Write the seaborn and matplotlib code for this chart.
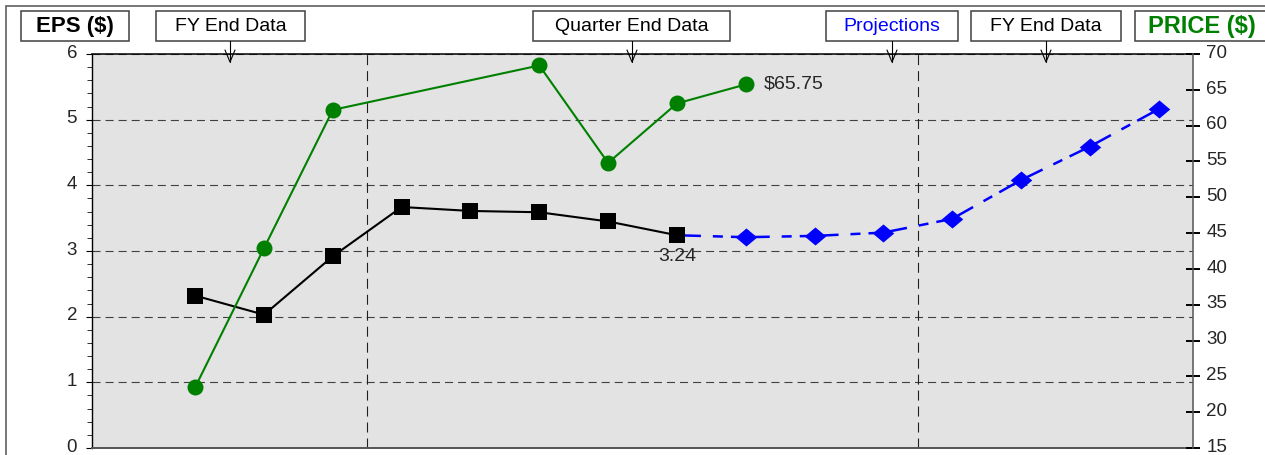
import numpy as np
import pandas as pd
import seaborn as sns
import matplotlib.pyplot as plt
from matplotlib.patches import Rectangle
from matplotlib.lines import Line2D
from matplotlib.ticker import MultipleLocator
from matplotlib.transforms import ScaledTranslation

# reported EPS, one slot per period
eps_idx = [0, 1, 2, 3, 4, 5, 6, 7]
eps_vals = [2.32, 2.03, 2.92, 3.67, 3.61, 3.59, 3.45, 3.24]

# projected EPS, starts at the last reported value
proj_idx = [7, 8, 9, 10, 11, 12, 13, 14]
proj_vals = [3.24, 3.21, 3.23, 3.28, 3.49, 4.08, 4.59, 5.16]

# share price (right axis)
price_idx = [0, 1, 2, 5, 6, 7, 8]
price_vals = [23.5, 42.9, 62.2, 68.4, 54.8, 63.1, 65.75]

period_breaks = [2.5, 10.5]
last_eps_label = "3.24"
last_price_label = "$65.75"

W, H = 1265, 455
plt.rcParams["lines.scale_dashes"] = False
sns.set_style("white", {"axes.facecolor": "#e3e3e3"})
plt.rcParams["font.family"] = ["Liberation Sans", "DejaVu Sans"]

fig = plt.figure(figsize=(W / 100, H / 100), dpi=100)


def fx(x):
    return x / W


def fy(y):
    return 1 - y / H


ax = fig.add_axes([fx(92), fy(448), fx(1193) - fx(92), fy(54) - fy(448)])
ax2 = ax.twinx()

# grid + period separators
ax.yaxis.grid(True, linestyle=(0, (5.8, 3.6)), color="#404040", linewidth=0.8)
for xb in period_breaks:
    ax.axvline(xb, color="#202020", linewidth=0.8, linestyle=(0, (7.2, 4.3)), zorder=1)

# projection: Excel restarts the dash pattern at every point, so one unit per segment
seg_rows = []
for i in range(len(proj_idx) - 1):
    seg_rows.append((proj_idx[i], proj_vals[i], i))
    seg_rows.append((proj_idx[i + 1], proj_vals[i + 1], i))
seg = pd.DataFrame(seg_rows, columns=["x", "eps", "seg"])
sns.lineplot(data=seg, x="x", y="eps", units="seg", estimator=None, ax=ax,
             color="#0000ff", linewidth=1.8,
             linestyle=(0, (17.3, 8.6, 7.2, 5.8, 200, 1)), zorder=3)
diamond = [(-1, 0), (0, 0.84), (1, 0), (0, -0.84)]
sns.scatterplot(x=proj_idx[1:], y=proj_vals[1:], ax=ax, marker=diamond, s=240,
                color="#0000ff", edgecolor="#0000ff", linewidth=0, zorder=4)

sns.lineplot(x=eps_idx, y=eps_vals, ax=ax, color="black", linewidth=1.5,
             marker="s", markersize=11, markeredgecolor="black",
             markeredgewidth=0, zorder=5)
ax.annotate(last_eps_label, (eps_idx[-1], eps_vals[-1]), xytext=(0, -15.5),
            textcoords="offset points", ha="center", va="center", fontsize=14)

sns.lineplot(x=price_idx, y=price_vals, ax=ax2, color="#008000", linewidth=1.5,
             marker="o", markersize=11.5, markeredgecolor="#008000",
             markeredgewidth=0, zorder=5)
ax2.annotate(last_price_label, (price_idx[-1], price_vals[-1]), xytext=(13, 0.5),
             textcoords="offset points", ha="left", va="center", fontsize=14)

ax.set_xlim(-1.5, 14.5)
ax.set_ylim(0, 6)
ax2.set_ylim(15, 70)
ax.set_xticks([])
ax.set_xlabel("")
ax.set_ylabel("")
ax2.set_ylabel("")
ax.yaxis.set_major_locator(MultipleLocator(1))
ax.yaxis.set_minor_locator(MultipleLocator(0.2))
ax2.yaxis.set_major_locator(MultipleLocator(5))

ax.tick_params(axis="y", which="major", direction="out", length=4.3, width=0.8,
               color="black", labelsize=13.5, pad=6.5, left=True)
ax.tick_params(axis="y", which="minor", direction="out", length=3.6, width=0.7,
               color="#303030", left=True)
ax2.tick_params(axis="y", direction="inout", length=9.4, width=1.4, color="black",
                labelsize=13.5, pad=5, right=True)

# labels sit a touch above their ticks in the reference
lift = ScaledTranslation(0, 2 / 72, fig.dpi_scale_trans)
for lab in ax.get_yticklabels() + ax2.get_yticklabels():
    lab.set_transform(lab.get_transform() + lift)

for a in (ax, ax2):
    for s in a.spines.values():
        s.set_visible(False)
ax.spines["left"].set_visible(True)
ax.spines["left"].set_color("black")
ax.spines["left"].set_linewidth(1.0)
ax.spines["top"].set_visible(True)
ax.spines["top"].set_color("black")
ax.spines["top"].set_linewidth(1.1)
ax.spines["bottom"].set_visible(True)
ax.spines["bottom"].set_color("#555555")
ax.spines["bottom"].set_linewidth(1.4)
ax2.spines["right"].set_visible(True)
ax2.spines["right"].set_color("#555555")
ax2.spines["right"].set_linewidth(1.1)

# outer frame (runs off the right and bottom edges)
fig.add_artist(Rectangle((fx(6), fy(470)), fx(1290) - fx(6), fy(6) - fy(470),
                         transform=fig.transFigure, fill=False,
                         edgecolor="#606060", linewidth=1.2))

# header boxes: text, left, right, colour, weight, size, arrow x, text x
headers = [
    ("EPS ($)", 21, 129, "black", "bold", 16, None, 75),
    ("FY End Data", 156, 305, "black", "normal", 14, 230, None),
    ("Quarter End Data", 533, 730, "black", "normal", 14, 632, None),
    ("Projections", 826, 958, "#0000ff", "normal", 14, 892, None),
    ("FY End Data", 971, 1121, "black", "normal", 14, 1046, None),
    ("PRICE ($)", 1135, 1290, "#008000", "bold", 17, None, 1202),
]
for text, x0, x1, col, wt, size, arrow_x, tx in headers:
    fig.add_artist(Rectangle((fx(x0), fy(41)), fx(x1) - fx(x0), fy(11) - fy(41),
                             transform=fig.transFigure, facecolor="white",
                             edgecolor="#404040", linewidth=1.1))
    cx = tx if tx is not None else (x0 + x1) / 2
    fig.text(fx(cx), fy(26.5), text, ha="center", va="center", color=col,
             fontweight=wt, fontsize=size)
    if arrow_x is not None:
        fig.add_artist(Line2D([fx(arrow_x), fx(arrow_x)], [fy(41), fy(62)],
                              transform=fig.transFigure, color="black", linewidth=0.8))
        fig.add_artist(Line2D([fx(arrow_x - 5), fx(arrow_x), fx(arrow_x + 5)],
                              [fy(50), fy(62), fy(50)],
                              transform=fig.transFigure, color="black", linewidth=0.8))

fig.savefig("out.png", dpi=100)
